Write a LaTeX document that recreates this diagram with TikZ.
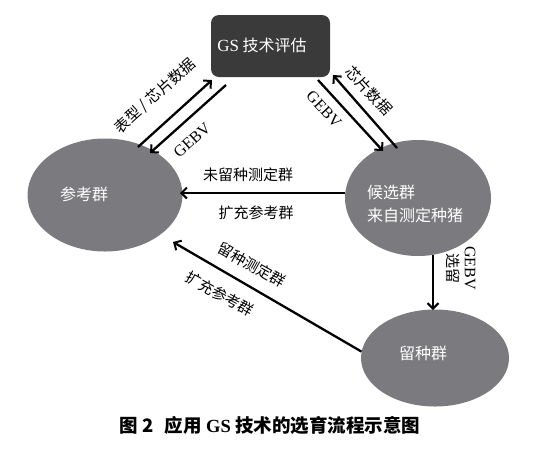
\documentclass[tikz,border=0pt]{standalone}
\usepackage{fontspec}
\setmainfont{Liberation Serif}
\newfontfamily\cjk{Noto Sans CJK SC}
\usetikzlibrary{shapes.geometric,arrows.meta}
\definecolor{ellgray}{HTML}{7B7B7F}
\definecolor{boxgray}{HTML}{3A3A3A}
\begin{document}
\begin{tikzpicture}[x=1pt,y=-1pt,
  pop/.style={ellipse,fill=ellgray,draw=none,inner sep=0pt},
  wtext/.style={text=white,font=\fontsize{16}{20}\selectfont\cjk,inner sep=0pt},
  lab/.style={font=\fontsize{15}{18}\selectfont\cjk,inner sep=0pt},
  latin/.style={font=\fontsize{16}{18}\selectfont\rmfamily,inner sep=0pt},
  arr/.style={line width=2.3pt,-{Straight Barb[length=5.5pt,width=11pt,line width=2pt]}},
  ]
\useasboundingbox (0,0) rectangle (534,456);
% nodes
\node[rounded corners=8pt,fill=boxgray,minimum width=119pt,minimum height=62pt,inner sep=0pt] (gs) at (270.5,46) {};
\node[wtext] (gst) at (262,45) {{\fontsize{17}{20}\selectfont\rmfamily GS} 技术评估};
\node[pop,minimum width=155pt,minimum height=113pt] (ref) at (105,195) {};
\node[wtext] (reft) at (84,194) {参考群};
\node[pop,minimum width=146pt,minimum height=116pt] (cand) at (418,198) {};
\node[wtext,align=left] (candt) at (415,204) {候选群\\[3pt]来自测定种猪};
\node[pop,minimum width=148pt,minimum height=97pt] (keep) at (435,358) {};
\node[wtext] (keept) at (423,353) {留种群};
% coordinates for paired arrows
\coordinate (l1s) at (138,147);
\coordinate (l1e) at (212,80);
\coordinate (l2s) at (226,85);
\coordinate (l2e) at (150,153);
\coordinate (r1s) at (318,80);
\coordinate (r1e) at (383,151);
\coordinate (r2s) at (397,148);
\coordinate (r2e) at (333,75);
% arrows
\draw[arr] (l1s) -- (l1e);
\draw[arr] (l2s) -- (l2e);
\draw[arr] (r1s) -- (r1e);
\draw[arr] (r2s) -- (r2e);
\draw[arr] (cand.west |- 0,193) -- (180,193);
\draw[arr] (433,255) -- (433,310);
\draw[arr] (keep.175) -- (173,242);
% labels
\node[lab,rotate=42] (lbA) at (155,96) {表型 / 芯片数据};
\node[latin,rotate=42] (lbB) at (192,140) {GEBV};
\node[latin,rotate=-47] (lbC) at (324,109) {GEBV};
\node[lab,rotate=-47] (lbD) at (369,91) {芯片数据};
\node[lab] (lbE) at (248,175) {未留种测定群};
\node[lab] (lbF) at (256,213) {扩充参考群};
\node[lab,rotate=-90,align=center] (lbG) at (461,268) {{\rmfamily\fontsize{16}{17}\selectfont GEBV}\\[-1pt]选留};
\node[lab,rotate=-29] (lbH) at (252,265) {留种测定群};
\node[lab,rotate=-29] (lbI) at (220,294) {扩充参考群};
\node[font=\fontsize{18.5}{22}\selectfont\cjk\bfseries,inner sep=0pt] (cap) at (270,425) {图 2\hspace{0.6em}应用 {\rmfamily GS} 技术的选育流程示意图};
\end{tikzpicture}
\end{document}
